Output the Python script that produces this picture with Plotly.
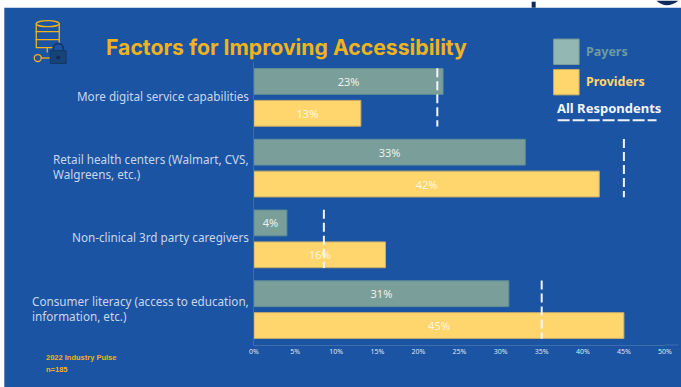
import plotly.graph_objects as go

W, H = 681, 387
categories = ["More digital service capabilities",
              "Retail health centers (Walmart, CVS,<br>Walgreens, etc.)",
              "Non-clinical 3rd party caregivers",
              "Consumer literacy (access to education,<br>information, etc.)"]
payers = [23, 33, 4, 31]
providers = [13, 42, 16, 45]
all_respondents = [22.3, 45, 8.5, 35]
tick_vals = [0, 5, 10, 15, 20, 25, 30, 35, 40, 45, 50]
tick_text = ["0%", "5%", "10%", "15%", "20%", "25%", "30%", "35%", "40%", "45%", "50%"]

BLUE = "#1b54a3"
GREEN = "#7a9f9a"
YELLOW = "#ffd66e"
GOLD = "#f0b31b"
LABEL = "#c9d6ec"

L, R, T, B = 254, 665.5, 61.5, 345.5


def px(x):
    return (x - L) / (R - L)


def py(y):
    return (B - y) / (B - T)


fig = go.Figure()
fig.add_bar(y=list(range(4)), x=payers, orientation="h", name="Payers",
            marker=dict(color=GREEN, line=dict(color="#5f8f94", width=1)),
            text=[f"{v}%" for v in payers], textposition="inside", insidetextanchor="middle",
            textfont=dict(color="#eef1ee", size=11, family="Noto Sans"), showlegend=False)
fig.add_bar(y=list(range(4)), x=providers, orientation="h", name="Providers",
            marker=dict(color=YELLOW, line=dict(color="#c9ad66", width=1)),
            text=[f"{v}%" for v in providers], textposition="inside", insidetextanchor="middle",
            textfont=dict(color="#fff6dc", size=11, family="Noto Sans"), showlegend=False)
for i, v in enumerate(all_respondents):
    fig.add_scatter(x=[v, v], y=[i - 0.41, i + 0.41], mode="lines", showlegend=False,
                    line=dict(color="#f2f5f8", width=2, dash="9px,4px"))

shapes = [dict(type="rect", xref="paper", yref="paper", x0=px(4), x1=px(W + 2), y0=py(H + 2), y1=py(7),
               fillcolor=BLUE, line_width=0, layer="below"),
          dict(type="rect", xref="paper", yref="paper", x0=px(532), x1=px(536), y0=py(7), y1=py(1),
               fillcolor="#0f2a5c", line_width=0, layer="below"),
          dict(type="path", xref="paper", yref="paper", layer="below", fillcolor="#0f2a5c", line_width=0,
               path=f"M {px(657)} {py(0)} Q {px(667)} {py(9)} {px(679)} {py(0)} Z"),
          # axis line runs on past the last tick
          dict(type="line", xref="paper", yref="paper", x0=1, x1=px(679), y0=0, y1=0,
               line=dict(color="#3f6cab", width=1)),
          # legend swatches
          dict(type="rect", xref="paper", yref="paper", x0=px(554), x1=px(579.5), y0=py(64), y1=py(38.5),
               fillcolor="#93b8b3", line=dict(color="#7a9f9a", width=1)),
          dict(type="rect", xref="paper", yref="paper", x0=px(554), x1=px(579.5), y0=py(94.5), y1=py(69),
               fillcolor=YELLOW, line=dict(color="#c9ad66", width=1)),
          dict(type="line", xref="paper", yref="paper", x0=px(558), x1=px(657), y0=py(120), y1=py(120),
               line=dict(color="#eef2f8", width=2, dash="12px,3px")),
          ]
# database icon
ic = dict(xref="paper", yref="paper", line=dict(color=GOLD, width=1.3))
for y0, y1 in [(23, 31), (31, 39), (39, 47)]:
    shapes.append(dict(type="rect", x0=px(36), x1=px(59), y0=py(y1), y1=py(y0), fillcolor=BLUE, **ic))
shapes.append(dict(type="circle", x0=px(36), x1=px(59), y0=py(26), y1=py(20), fillcolor=BLUE, **ic))
shapes.append(dict(type="circle", x0=px(34), x1=px(41), y0=py(61), y1=py(54), **ic))
shapes.append(dict(type="line", x0=px(41), x1=px(50), y0=py(57.5), y1=py(57.5), **ic))
shapes.append(dict(type="line", x0=px(47), x1=px(47), y0=py(47), y1=py(52), **ic))
shapes.append(dict(type="circle", x0=px(53), x1=px(63), y0=py(53), y1=py(43),
                   xref="paper", yref="paper", fillcolor=BLUE, line=dict(color="#123a6b", width=2)))
shapes.append(dict(type="rect", x0=px(50), x1=px(66), y0=py(63), y1=py(50), fillcolor="#174478",
                   xref="paper", yref="paper", line=dict(color="#123a6b", width=1)))
shapes.append(dict(type="circle", x0=px(56), x1=px(60), y0=py(59), y1=py(55),
                   xref="paper", yref="paper", fillcolor="#0f2a5c", line_width=0))

annotations = []


def note(x, y, text, size, color, family="Noto Sans", anchor="left"):
    annotations.append(dict(xref="paper", yref="paper", x=px(x), y=py(y), text=text, showarrow=False,
                            xanchor=anchor, yanchor="middle", align="left",
                            font=dict(size=size, color=color, family=family)))


note(104, 46, "<b>Factors for Improving Accessibility</b>", 21.2, GOLD, "Inter")
note(584, 51, "<b>Payers</b>", 12.5, "#6f9aa0", "Noto Sans")
note(584, 81.5, "<b>Providers</b>", 12.5, YELLOW, "Noto Sans")
note(555, 108, "<b>All Respondents</b>", 13, "#f2f5f8", "Noto Sans")
note(44, 358.5, "<b>2022 Industry Pulse</b>", 7.5, GOLD, "Liberation Sans")
note(44, 370, "<b>n=185</b>", 7.5, GOLD, "Liberation Sans")

# category labels: right-anchored block, lines left-aligned
for i, c in enumerate(categories):
    annotations.append(dict(xref="paper", yref="y", x=px(251), y=i, text=c, showarrow=False,
                            xanchor="right", yanchor="middle", align="left", yshift=1.5,
                            font=dict(size=11.7, color=LABEL, family="Noto Sans")))

fig.update_layout(
    width=W, height=H, autosize=False, paper_bgcolor="white", plot_bgcolor="rgba(0,0,0,0)",
    margin=dict(l=L, r=W - R, t=T, b=H - B, autoexpand=False),
    barmode="group", bargap=0.1, bargroupgap=0.19,
    shapes=shapes, annotations=annotations,
    xaxis=dict(range=[0, 50], tickvals=tick_vals, ticktext=tick_text, showgrid=False, zeroline=False,
               tickfont=dict(size=7, color="#dfe6f2", family="Noto Sans"), showline=True,
               linecolor="#3f6cab", linewidth=1, ticks=""),
    yaxis=dict(range=[3.5, -0.5], tickvals=list(range(4)), showticklabels=False, showgrid=False, zeroline=False,
               showline=True, linecolor="#3f6cab", linewidth=1, ticks=""),
)
fig.write_html("out.html", config=dict(displayModeBar=False),
               post_script="document.body.style.margin='0';document.documentElement.style.overflow='hidden';")
